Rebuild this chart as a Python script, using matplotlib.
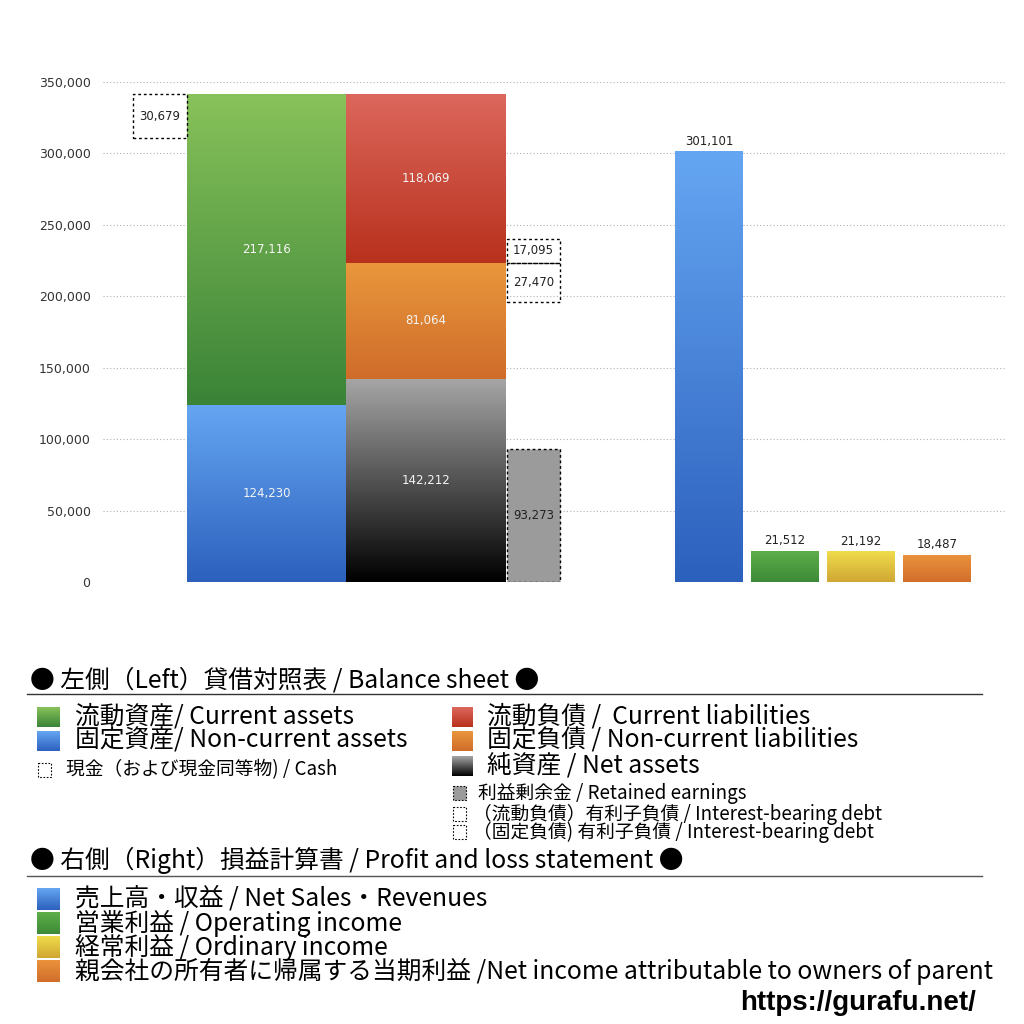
import matplotlib.pyplot as plt
import matplotlib.colors as mcolors
import numpy as np
from matplotlib.patches import Rectangle

plt.rcParams['font.family'] = ['Noto Sans CJK JP', 'DejaVu Sans']

# balance sheet (left)
current_assets = 217116
noncurrent_assets = 124230
cash = 30679
current_liab = 118069
noncurrent_liab = 81064
net_assets = 142212
retained_earnings = 93273
ibd_current = 17095
ibd_noncurrent = 27470

# profit and loss (right)
pl_labels = ['売上高・収益', '営業利益', '経常利益', '当期利益']
pl_values = [301101, 21512, 21192, 18487]

yticks = [0, 50000, 100000, 150000, 200000, 250000, 300000, 350000]

# gradient colours (top, bottom)
G_GREEN = ('#88c25a', '#3a8337')
G_BLUE = ('#65a6f2', '#2c60bd')
G_RED = ('#dc675c', '#b8311d')
G_ORANGE = ('#e9973c', '#cf6c2a')
G_BLACK = ('#a6a6a6', '#000000')
G_GREEN2 = ('#5fae4a', '#3c8a36')
G_YELLOW = ('#f0dc4c', '#d0a633')
G_ORANGE2 = ('#ea923c', '#d16e2b')
pl_grads = [G_BLUE, G_GREEN2, G_YELLOW, G_ORANGE2]


def grad_rect(ax, x, w, y0, y1, cols, z=2):
    top = np.array(mcolors.to_rgb(cols[0]))
    bot = np.array(mcolors.to_rgb(cols[1]))
    t = np.linspace(0, 1, 256)[:, None]
    img = (top * (1 - t) + bot * t)[:, None, :]
    ax.imshow(img, extent=[x, x + w, y0, y1], origin='upper', aspect='auto',
              interpolation='bilinear', zorder=z)


def dotted_box(ax, x, w, y0, h, face='none', z=3):
    ax.add_patch(Rectangle((x, y0), w, h, facecolor=face, edgecolor='black',
                           linewidth=1, linestyle=(0, (2, 2)), zorder=z))


W, H = 1024, 1024
fig = plt.figure(figsize=(W / 100, H / 100), dpi=100)
ax = fig.add_axes([103 / W, 1 - 582 / H, (1005 - 103) / W, 500 / H])
ax.set_xlim(0, 902)
ax.set_ylim(0, 350000)

# bar positions (axes units)
xa, wa = 84, 159       # assets
xl, wl = 243, 160      # liabilities
xr, wr = 404, 53       # retained earnings
xc, wc = 30, 54        # cash
xs = [572, 648, 724, 800]
ws = 68

# assets
grad_rect(ax, xa, wa, 0, noncurrent_assets, G_BLUE)
grad_rect(ax, xa, wa, noncurrent_assets, noncurrent_assets + current_assets, G_GREEN)
total_a = noncurrent_assets + current_assets

# liabilities + net assets
grad_rect(ax, xl, wl, 0, net_assets, G_BLACK)
b2 = net_assets + noncurrent_liab
grad_rect(ax, xl, wl, net_assets, b2, G_ORANGE)
grad_rect(ax, xl, wl, b2, b2 + current_liab, G_RED)

# retained earnings, cash, interest-bearing debt
dotted_box(ax, xr, wr, 0, retained_earnings, face='#9b9b9b')
dotted_box(ax, xc, wc, total_a - cash, cash)
dotted_box(ax, xr, wr, b2, ibd_current)
dotted_box(ax, xr, wr, b2 - ibd_noncurrent, ibd_noncurrent)

num = 'DejaVu Sans'
wlab = dict(color='#f4f4f4', fontsize=8.5, ha='center', va='center', zorder=5, family=num)
blab = dict(color='#222222', fontsize=8.5, ha='center', va='center', zorder=5, family=num)
ax.text(xa + wa / 2, noncurrent_assets / 2, f'{noncurrent_assets:,}', **wlab)
ax.text(xa + wa / 2, noncurrent_assets + current_assets / 2, f'{current_assets:,}', **wlab)
ax.text(xl + wl / 2, net_assets / 2, f'{net_assets:,}', **wlab)
ax.text(xl + wl / 2, net_assets + noncurrent_liab / 2, f'{noncurrent_liab:,}', **wlab)
ax.text(xl + wl / 2, b2 + current_liab / 2, f'{current_liab:,}', **wlab)
ax.text(xr + wr / 2, retained_earnings / 2, f'{retained_earnings:,}', **blab)
ax.text(xc + wc / 2, total_a - cash / 2, f'{cash:,}', **blab)
ax.text(xr + wr / 2, b2 + ibd_current / 2, f'{ibd_current:,}', **blab)
ax.text(xr + wr / 2, b2 - ibd_noncurrent / 2, f'{ibd_noncurrent:,}', **blab)

# profit and loss bars
for x, v, g in zip(xs, pl_values, pl_grads):
    grad_rect(ax, x, ws, 0, v, g)
    ax.annotate(f'{v:,}', (x + ws / 2, v), xytext=(0, 3), textcoords='offset points',
                ha='center', va='bottom', fontsize=8.5, color='#222222', family=num)

ax.set_yticks(yticks)
ax.set_yticklabels([f'{t:,}' for t in yticks], fontsize=9, color='#333333', family=num)
ax.set_xticks([])
ax.tick_params(axis='y', length=0, pad=9)
ax.grid(axis='y', linestyle=(0, (1, 2)), color='#b0b0b0', linewidth=0.8, zorder=0)
ax.set_axisbelow(True)
for s in ax.spines.values():
    s.set_visible(False)
ax.set_xlim(0, 902)
ax.set_ylim(0, 350000)

# legend area in pixel coordinates
lg = fig.add_axes([0, 0, 1, 1], zorder=-1)
lg.set_xlim(0, W)
lg.set_ylim(H, 0)
lg.axis('off')


def sq(x, y, w, h, cols=None, face=None, dotted=False):
    if cols is not None:
        t = np.linspace(0, 1, 64)[:, None]
        top = np.array(mcolors.to_rgb(cols[0]))
        bot = np.array(mcolors.to_rgb(cols[1]))
        img = (top * (1 - t) + bot * t)[:, None, :]
        lg.imshow(img, extent=[x, x + w, y + h / 2, y - h / 2], origin='upper', aspect='auto')
    else:
        lg.add_patch(Rectangle((x, y - h / 2), w, h, facecolor=face or 'none',
                               edgecolor='black', linewidth=0.8,
                               linestyle=(0, (1.5, 1.5)) if dotted else '-'))


big = 17.8
small = 13.5
lg.text(30, 680, '● 左側（Left）貸借対照表 / Balance sheet ●', fontsize=big, va='center')
lg.plot([27, 982], [694, 694], color='#333333', lw=1)

sq(37, 717, 23, 20, G_GREEN)
lg.text(75, 717, '流動資産/ Current assets', fontsize=big, va='center')
sq(37, 741, 23, 20, G_BLUE)
lg.text(75, 741, '固定資産/ Non-current assets', fontsize=big, va='center')
sq(38, 770, 13, 14, dotted=True)
lg.text(66, 770, '現金（および現金同等物) / Cash', fontsize=small, va='center')

sq(452, 717, 21, 20, G_RED)
lg.text(487, 717, '流動負債 /  Current liabilities', fontsize=big, va='center')
sq(452, 741, 21, 20, G_ORANGE)
lg.text(487, 741, '固定負債 / Non-current liabilities', fontsize=big, va='center')
sq(452, 766, 21, 20, G_BLACK)
lg.text(487, 766, '純資産 / Net assets', fontsize=big, va='center')
sq(453, 793, 13, 14, face='#9b9b9b', dotted=True)
lg.text(478, 793, '利益剰余金 / Retained earnings', fontsize=small, va='center')
sq(453, 814, 13, 14, dotted=True)
lg.text(473, 814, '（流動負債）有利子負債 / Interest-bearing debt', fontsize=small, va='center')
sq(453, 832, 13, 14, dotted=True)
lg.text(473, 832, '（固定負債) 有利子負債 / Interest-bearing debt', fontsize=small, va='center')

lg.text(30, 860, '● 右側（Right）損益計算書 / Profit and loss statement ●', fontsize=big, va='center')
lg.plot([27, 982], [876, 876], color='#555555', lw=1)

pl_legend = ['売上高・収益 / Net Sales・Revenues',
             '営業利益 / Operating income',
             '経常利益 / Ordinary income',
             '親会社の所有者に帰属する当期利益 /Net income attributable to owners of parent']
for i, (txt, g) in enumerate(zip(pl_legend, pl_grads)):
    y = 899 + 24 * i
    sq(37, y, 23, 22, g)
    lg.text(75, y, txt, fontsize=big, va='center')

lg.text(976, 1003, 'https://gurafu.net/', fontsize=20, fontweight='bold',
        family='Liberation Sans', ha='right', va='center')

fig.savefig('out.png', dpi=100)
